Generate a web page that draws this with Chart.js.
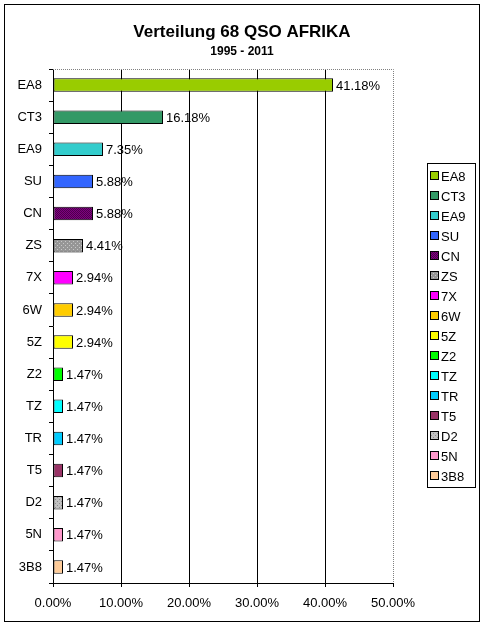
<!DOCTYPE html>
<html>
<head>
<meta charset="utf-8">
<script src="https://cdn.jsdelivr.net/npm/chart.js@4/dist/chart.umd.min.js"></script>
<style>
  html, body { margin: 0; padding: 0; background: #fff; }
  #wrap { position: relative; width: 484px; height: 627px; }
</style>
</head>
<body>
<div id="wrap"><canvas id="chart" width="484" height="627"></canvas></div>
<script>
// Daten
const laender = ['EA8', 'CT3', 'EA9', 'SU', 'CN', 'ZS', '7X', '6W', '5Z', 'Z2', 'TZ', 'TR', 'T5', 'D2', '5N', '3B8'];
const anteile = [41.18, 16.18, 7.35, 5.88, 5.88, 4.41, 2.94, 2.94, 2.94, 1.47, 1.47, 1.47, 1.47, 1.47, 1.47, 1.47];
const xTicks = [0, 10, 20, 30, 40, 50];

const farben = ['#99CC00', '#339966', '#33CCCC', '#3366FF', 'CN', 'ZS', '#FF00FF', '#FFCC00',
    '#FFFF00', '#00FF00', '#00FFFF', '#00CCFF', '#993366', 'D2', '#FF99CC', '#FFCC99'];

const FONT = "'Liberation Sans', Arial, sans-serif";

// Muster für CN, ZS, D2
function muster(bg, fg, typ) {
    const c = document.createElement('canvas');
    c.width = 4; c.height = 4;
    const g = c.getContext('2d');
    g.fillStyle = bg;
    g.fillRect(0, 0, 4, 4);
    g.fillStyle = fg;
    if (typ === 'checker') {
        g.fillRect(0, 0, 1, 1); g.fillRect(2, 0, 1, 1);
        g.fillRect(1, 1, 1, 1); g.fillRect(3, 1, 1, 1);
        g.fillRect(0, 2, 1, 1); g.fillRect(2, 2, 1, 1);
        g.fillRect(1, 3, 1, 1); g.fillRect(3, 3, 1, 1);
    } else {
        g.fillRect(1, 1, 1, 1); g.fillRect(3, 3, 1, 1);
    }
    return document.getElementById('chart').getContext('2d').createPattern(c, 'repeat');
}

const fuellung = farben.map(f => {
    if (f === 'CN') return muster('#800080', '#4d004d', 'checker');
    if (f === 'ZS') return muster('#969696', '#c8c8c8', 'dots');
    if (f === 'D2') return muster('#C0C0C0', '#8c8c8c', 'dots');
    return f;
});

// Rahmen, Plotrahmen, Werte, Legende
const extras = {
    id: 'extras',
    beforeDatasetsDraw(chart) {
        const ctx = chart.ctx;
        const a = chart.chartArea;
        ctx.save();
        ctx.strokeStyle = '#808080';
        ctx.lineWidth = 1;
        ctx.setLineDash([1, 1]);
        ctx.beginPath();
        ctx.moveTo(a.left, a.top + 0.5);
        ctx.lineTo(Math.round(a.right) + 0.5, a.top + 0.5);
        ctx.lineTo(Math.round(a.right) + 0.5, a.bottom);
        ctx.stroke();
        ctx.restore();
    },
    afterDraw(chart) {
        const ctx = chart.ctx;
        ctx.save();
        // äußerer Rahmen
        ctx.strokeStyle = '#000';
        ctx.lineWidth = 1;
        ctx.strokeRect(4.5, 4.5, 475, 617);

        // Werte neben den Balken
        ctx.fillStyle = '#000';
        ctx.font = '13px ' + FONT;
        ctx.textBaseline = 'middle';
        ctx.textAlign = 'left';
        const meta = chart.getDatasetMeta(0);
        meta.data.forEach((bar, i) => {
            ctx.fillText(anteile[i].toFixed(2) + '%', bar.x + 3, bar.y + 1);
        });

        // Legende
        const lx = 427, ly = 163, lw = 48, lh = 324;
        ctx.strokeRect(lx + 0.5, ly + 0.5, lw, lh);
        laender.forEach((name, i) => {
            const y = ly + 13 + i * 20;
            ctx.fillStyle = fuellung[i];
            ctx.fillRect(lx + 4, y - 4, 7, 7);
            ctx.strokeStyle = '#000';
            ctx.strokeRect(lx + 3.5, y - 4.5, 8, 8);
            ctx.fillStyle = '#000';
            ctx.fillText(name, lx + 14, y + 1);
        });
        ctx.restore();
    }
};

new Chart(document.getElementById('chart'), {
    type: 'bar',
    data: {
        labels: laender,
        datasets: [{
            data: anteile,
            backgroundColor: fuellung,
            borderColor: '#000',
            borderWidth: 1,
            borderSkipped: false,
            barPercentage: 0.42,
            categoryPercentage: 1
        }]
    },
    options: {
        indexAxis: 'y',
        responsive: false,
        animation: false,
        devicePixelRatio: 1,
        layout: { padding: { top: 4, left: 4, right: 4, bottom: 6 } },
        plugins: {
            legend: { display: false },
            tooltip: { enabled: false },
            title: {
                display: true,
                text: 'Verteilung 68 QSO AFRIKA',
                color: '#000',
                font: { family: FONT, size: 17, weight: 'bold' },
                padding: { top: 17.8, bottom: 0 }
            },
            subtitle: {
                display: true,
                text: '1995 - 2011',
                color: '#000',
                font: { family: FONT, size: 12, weight: 'bold' },
                padding: { top: 2.6, bottom: 9.8 }
            }
        },
        scales: {
            x: {
                min: 0,
                max: 50,
                afterBuildTicks(scale) {
                    scale.ticks = xTicks.map(v => ({ value: v }));
                },
                afterFit(scale) { scale.height = 38; },
                grid: {
                    color: ctx => (ctx.tick && (ctx.tick.value === 0 || ctx.tick.value === 50)) ? 'rgba(0,0,0,0)' : '#000',
                    tickColor: '#000',
                    tickLength: 4,
                    lineWidth: 1
                },
                border: { color: '#000' },
                ticks: {
                    color: '#000',
                    padding: 9,
                    font: { family: FONT, size: 13 },
                    callback: v => v.toFixed(2) + '%'
                }
            },
            y: {
                afterFit(scale) { scale.width = 49; },
                grid: {
                    drawOnChartArea: false,
                    tickColor: '#000',
                    tickLength: 4,
                    offset: true
                },
                border: { color: '#000' },
                ticks: {
                    color: '#000',
                    padding: 7,
                    font: { family: FONT, size: 13 }
                }
            },
            // Platzhalter rechts für die Legende
            yLegende: {
                axis: 'y',
                position: 'right',
                afterFit(scale) { scale.width = 87; },
                grid: { display: false, drawTicks: false },
                border: { display: false },
                ticks: { display: false }
            }
        }
    },
    plugins: [extras]
});
</script>
</body>
</html>
